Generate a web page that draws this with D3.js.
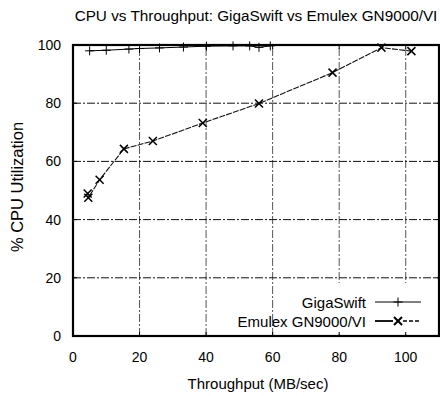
<html>
<head>
<script src="https://d3js.org/d3.v7.min.js"></script>
<style>
  body { margin: 0; background: #fff; }
  text { font-family: "Liberation Sans", Arial, sans-serif; fill: #000; }
</style>
</head>
<body>
<svg id="chart" width="440" height="396"></svg>
<script>
// data
const gigaX = [5.0, 10.0, 16.8, 20.0, 26.0, 33.2, 40.1, 48.1, 53.1, 55.9, 59.3];
const gigaY = [98.0, 98.2, 98.6, 98.8, 99.0, 99.3, 99.6, 99.7, 99.7, 99.2, 99.7];
const emuX = [4.4, 4.6, 8.0, 15.3, 24.0, 39.0, 55.9, 78.0, 92.7, 101.7];
const emuY = [49.0, 47.5, 53.7, 64.3, 67.0, 73.2, 79.9, 90.5, 99.1, 97.9];
const xTicks = [0, 20, 40, 60, 80, 100];
const yTicks = [0, 20, 40, 60, 80, 100];
const seriesNames = ["GigaSwift", "Emulex GN9000/VI"];

const svg = d3.select("#chart");
const margin = {top: 45, right: 1, bottom: 60, left: 73};
const W = +svg.attr("width"), H = +svg.attr("height");

const x = d3.scaleLinear().domain([0, 110]).range([margin.left, W - margin.right]);
const y = d3.scaleLinear().domain([0, 100]).range([H - margin.bottom, margin.top]);

const giga = gigaX.map((d, i) => ({x: d, y: gigaY[i]}));
const emu = emuX.map((d, i) => ({x: d, y: emuY[i]}));

// grid
const grid = svg.append("g");
grid.selectAll("line.v").data(xTicks.filter(d => d > 0))
  .join("line").attr("class", "v")
  .attr("x1", d => x(d)).attr("x2", d => x(d))
  .attr("y1", y(0)).attr("y2", y(100))
  .attr("stroke", "#555").attr("stroke-width", 1)
  .attr("stroke-dasharray", "8,2,2,2");
grid.selectAll("line.h").data(yTicks.filter(d => d > 0 && d < 100))
  .join("line").attr("class", "h")
  .attr("x1", x(0)).attr("x2", x(110))
  .attr("y1", d => y(d)).attr("y2", d => y(d))
  .attr("stroke", "#111").attr("stroke-width", 1)
  .attr("stroke-dasharray", "8,2,2,2");

// legend background blanks the grid
const lg = svg.append("g");
lg.append("rect").attr("x", 300).attr("y", 283).attr("width", 137).attr("height", 51).attr("fill", "#fff");

// ticks on the frame (inward)
const tk = svg.append("g").attr("stroke", "#000").attr("stroke-width", 1);
xTicks.forEach(d => {
  tk.append("line").attr("x1", x(d)).attr("x2", x(d)).attr("y1", y(0)).attr("y2", y(0) - 4);
  tk.append("line").attr("x1", x(d)).attr("x2", x(d)).attr("y1", y(100)).attr("y2", y(100) + 4);
});
yTicks.forEach(d => {
  tk.append("line").attr("x1", x(0)).attr("x2", x(0) + 4).attr("y1", y(d)).attr("y2", y(d));
  tk.append("line").attr("x1", x(110)).attr("x2", x(110) - 4).attr("y1", y(d)).attr("y2", y(d));
});

// series lines
const line = d3.line().x(d => x(d.x)).y(d => y(d.y));
svg.append("path").datum(giga).attr("d", line)
  .attr("fill", "none").attr("stroke", "#000").attr("stroke-width", 1);
svg.append("path").datum(emu).attr("d", line)
  .attr("fill", "none").attr("stroke", "#111").attr("stroke-width", 1.1)
  .attr("stroke-dasharray", "6,1.2");

// markers
const plus = (g, cx, cy, r) => {
  g.append("line").attr("x1", cx - r).attr("x2", cx + r).attr("y1", cy).attr("y2", cy);
  g.append("line").attr("x1", cx).attr("x2", cx).attr("y1", cy - r).attr("y2", cy + r);
};
const cross = (g, cx, cy, r) => {
  g.append("line").attr("x1", cx - r).attr("x2", cx + r).attr("y1", cy - r).attr("y2", cy + r);
  g.append("line").attr("x1", cx - r).attr("x2", cx + r).attr("y1", cy + r).attr("y2", cy - r);
};
const mk = svg.append("g").attr("stroke", "#000").attr("stroke-width", 1);
giga.forEach(d => plus(mk, x(d.x), y(d.y), 4.5));
const mk2 = svg.append("g").attr("stroke", "#000").attr("stroke-width", 1.5);
emu.forEach(d => cross(mk2, x(d.x), y(d.y), 4));

// frame
svg.append("rect")
  .attr("x", x(0)).attr("y", y(100))
  .attr("width", x(110) - x(0)).attr("height", y(0) - y(100))
  .attr("fill", "none").attr("stroke", "#000").attr("stroke-width", 2.2);

// tick labels
svg.append("g").selectAll("text").data(xTicks).join("text")
  .attr("x", d => x(d)).attr("y", y(0) + 26)
  .attr("text-anchor", "middle").attr("font-size", 14).text(d => d);
svg.append("g").selectAll("text").data(yTicks).join("text")
  .attr("x", x(0) - 12).attr("y", d => y(d) + 5)
  .attr("text-anchor", "end").attr("font-size", 14).text(d => d);

// titles
svg.append("text").attr("x", 256).attr("y", 21).attr("text-anchor", "middle")
  .attr("font-size", 15.3).text("CPU vs Throughput: GigaSwift vs Emulex GN9000/VI");
svg.append("text").attr("x", 258).attr("y", 389).attr("text-anchor", "middle")
  .attr("font-size", 15).text("Throughput (MB/sec)");
svg.append("text").attr("transform", "translate(23,187) rotate(-90)")
  .attr("text-anchor", "middle").attr("font-size", 16.5).text("% CPU Utilization");

// legend
const legY = [302, 321];
seriesNames.forEach((n, i) => {
  lg.append("text").attr("x", 366).attr("y", legY[i] + 5.5).attr("text-anchor", "end")
    .attr("font-size", 15).text(n);
});
lg.append("line").attr("x1", 375).attr("x2", 421).attr("y1", legY[0]).attr("y2", legY[0])
  .attr("stroke", "#000").attr("stroke-width", 1);
const lk = lg.append("g").attr("stroke", "#000").attr("stroke-width", 1);
plus(lk, 398, legY[0], 4.5);
lg.append("line").attr("x1", 375).attr("x2", 393).attr("y1", legY[1]).attr("y2", legY[1])
  .attr("stroke", "#000").attr("stroke-width", 1.8);
lg.append("line").attr("x1", 403).attr("x2", 421).attr("y1", legY[1]).attr("y2", legY[1])
  .attr("stroke", "#000").attr("stroke-width", 1.4).attr("stroke-dasharray", "4,2");
const lk2 = lg.append("g").attr("stroke", "#000").attr("stroke-width", 2);
cross(lk2, 398, legY[1], 4);
</script>
</body>
</html>
